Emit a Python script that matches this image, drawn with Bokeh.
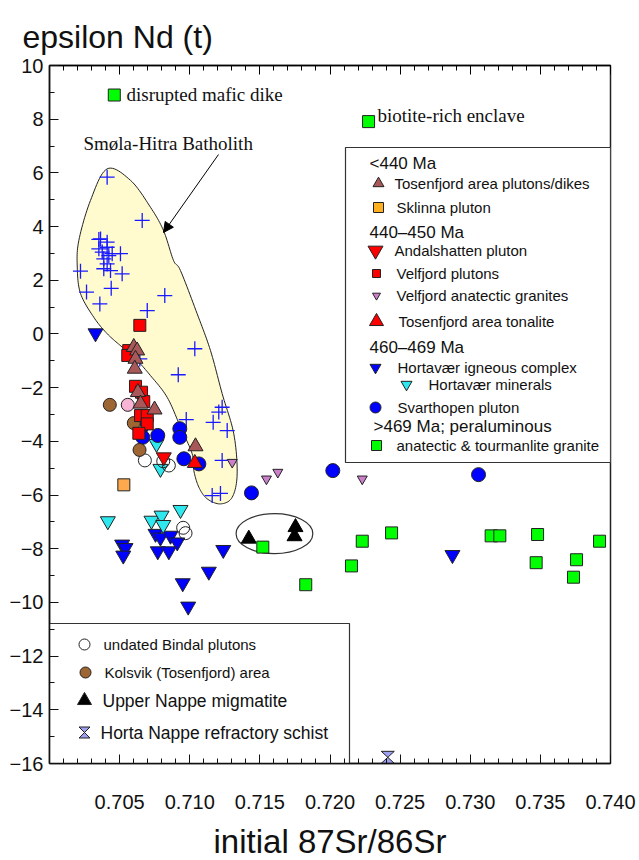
import numpy as np
from bokeh.plotting import figure
from bokeh.models import (FixedTicker, LinearAxis, Range1d, Label, Arrow, NormalHead,
                          PrintfTickFormatter, CustomJSTickFormatter)
from bokeh.embed import file_html
from bokeh.resources import INLINE

# ---------------- data: initial 87Sr/86Sr vs epsilon Nd(t) ----------------
smola_sr = [0.70411, 0.70661, 0.70364, 0.70411, 0.70376, 0.70411, 0.70423, 0.70387, 0.70447,
            0.70506, 0.70411, 0.70435, 0.70518, 0.70387, 0.70221, 0.70264, 0.70359, 0.70440,
            0.70697, 0.70822, 0.71036, 0.70918, 0.70644, 0.71231, 0.71207, 0.71167, 0.71267,
            0.70975, 0.71231, 0.71160, 0.71219, 0.70352, 0.70352]
smola_nd = [5.84, 4.23, 3.54, 3.42, 3.05, 3.23, 2.92, 2.80, 2.99,
            2.99, 2.61, 2.36, 2.24, 2.43, 2.34, 1.56, 1.12, 1.70,
            0.87, 1.43, -0.55, -1.52, -0.93, -2.73, -2.91, -3.29, -3.60,
            -3.19, -4.71, -6.02, -5.94, 3.52, 3.17]

horta_ig_sr = [0.70328, 0.70684, 0.70518, 0.70542, 0.70526, 0.70756, 0.70791, 0.70863, 0.70911,
               0.70772, 0.70851, 0.71239, 0.71136, 0.70950, 0.70989, 0.72873]
horta_ig_nd = [0.03, -3.41, -7.84, -7.97, -8.25, -7.44, -7.58, -7.51, -7.76,
               -8.09, -8.09, -8.04, -8.85, -9.28, -10.15, -8.23]

horta_min_sr = [0.70763, 0.70791, 0.70416, 0.70727, 0.70799, 0.70811, 0.70934]
horta_min_nd = [-4.09, -5.02, -6.97, -6.95, -6.76, -7.11, -6.55]

svart_sr = [0.70665, 0.70772, 0.70929, 0.70929, 0.70958, 0.71065, 0.71440, 0.72020, 0.73059]
svart_nd = [-3.85, -3.78, -3.53, -3.85, -4.65, -4.84, -5.92, -5.09, -5.24]

undated_sr = [0.70680, 0.70811, 0.70851, 0.70953, 0.70970]
undated_nd = [-4.71, -4.74, -4.90, -7.22, -7.42]

kolsvik_sr = [0.70430, 0.70601, 0.70642]
kolsvik_nd = [-2.64, -3.32, -4.32]

pink_sr = [0.70558]
pink_nd = [-2.64]

velfjord_sr = [0.70644, 0.70565, 0.70558, 0.70613, 0.70656, 0.70672, 0.70649, 0.70697, 0.70697, 0.70637]
velfjord_nd = [0.32, -0.62, -0.80, -1.95, -2.17, -2.52, -3.04, -3.04, -3.35, -3.70]

tosen_sr = [0.70601, 0.70625, 0.70613, 0.70608, 0.70630, 0.70649, 0.70749, 0.71041]
tosen_nd = [-0.49, -0.62, -0.93, -1.30, -2.17, -2.60, -2.82, -4.19]

andal_sr = [0.70815]
andal_nd = [-4.59]

tonalite_sr = [0.71036]
tonalite_nd = [-4.81]

vf_anatectic_sr = [0.71303, 0.71547, 0.71628, 0.72230]
vf_anatectic_nd = [-4.78, -5.40, -5.15, -5.40]

sklinna_sr = [0.70530]
sklinna_nd = [-5.62]

migmatite_sr = [0.71421, 0.71754, 0.71747]
migmatite_nd = [-7.63, -7.20, -7.54]

granite_sr = [0.72230, 0.72439, 0.72153, 0.71827, 0.73149, 0.73211, 0.73480, 0.73470,
              0.73758, 0.73736, 0.73922, 0.71521, 0.70462, 0.72275]
granite_nd = [-7.72, -7.41, -8.64, -9.34, -7.52, -7.52, -7.47, -8.52,
              -8.41, -9.06, -7.72, -7.94, 8.90, 7.91]

schist_sr = [0.72412]
schist_nd = [-15.77]

# outline of the Smøla-Hitra batholith field
bath_sr = [0.70411, 0.70578, 0.70720, 0.70813, 0.70884, 0.70934, 0.71053, 0.71148, 0.71231,
           0.71314, 0.71338, 0.71303, 0.71219, 0.71124, 0.71065, 0.71029, 0.71017, 0.70934,
           0.70839, 0.70720, 0.70613, 0.70518, 0.70411, 0.70316, 0.70221, 0.70198, 0.70209, 0.70292]
bath_nd = [6.15, 5.72, 4.72, 3.85, 2.74, 2.36, 0.75, -0.62, -2.22,
           -3.72, -5.21, -6.08, -6.33, -6.14, -5.71, -5.09, -4.46, -3.47,
           -2.36, -1.55, -0.92, -0.49, 0.01, 0.62, 1.51, 2.49, 3.48, 4.97]

# migmatite field (centre, width, height)
mig_field = dict(x=0.71604, y=-7.44, w=0.00547, h=1.49)

x_ticks = [0.705, 0.710, 0.715, 0.720, 0.725, 0.730, 0.735, 0.740]
y_ticks = list(range(-16, 11, 2))

# ---------------- layout ----------------
X0, X1 = 0.700, 0.740
Y0, Y1 = -16.0, 10.0
FL, FT, FW, FH = 49, 65, 561, 698   # frame left/top/width/height in pixels


def dx(sx):
    return X0 + (sx - FL) / FW * (X1 - X0)


def dy(sy):
    return Y1 - (sy - FT) / FH * (Y1 - Y0)


SANS = "Liberation Sans"
SERIF = "Liberation Serif"

p = figure(frame_width=FW, frame_height=FH,
           x_range=Range1d(X0, X1), y_range=Range1d(Y0, Y1),
           output_backend="svg", toolbar_location=None,
           min_border_left=FL, min_border_top=FT, min_border_right=29, min_border_bottom=97)
p.background_fill_color = "white"
p.border_fill_color = "white"
p.grid.visible = False
p.outline_line_color = "#222222"
p.outline_line_width = 1.5

# y-axis title sits above the frame, left aligned
p.title.text = "epsilon Nd (t)"
p.title.text_font = SANS
p.title.text_font_size = "32px"
p.title.text_font_style = "normal"
p.title.text_color = "#111111"
p.title.align = "left"
p.title.offset = -27
p.title.standoff = 22

minor_x = [round(0.700 + 0.001 * i, 3) for i in range(41)]
minor_y = list(range(-16, 11))

xa = p.xaxis[0]
xa.ticker = FixedTicker(ticks=x_ticks, minor_ticks=minor_x)
xa.formatter = PrintfTickFormatter(format="%.3f")
ya = p.yaxis[0]
ya.ticker = FixedTicker(ticks=y_ticks, minor_ticks=minor_y)

for ax in (xa, ya):
    ax.major_tick_in = 9
    ax.major_tick_out = 0
    ax.minor_tick_in = 5
    ax.minor_tick_out = 0
    ax.axis_line_width = 1.5
    ax.axis_line_color = "#111111"
    ax.major_tick_line_color = "#111111"
    ax.minor_tick_line_color = "#111111"
    ax.major_label_text_font = SANS
    ax.major_label_text_font_size = "20px"
    ax.major_label_text_color = "#111111"
xa.major_label_standoff = 31
ya.major_label_standoff = 6

xa.axis_label = "initial 87Sr/86Sr"
xa.axis_label_text_font = SANS
xa.axis_label_text_font_size = "33px"
xa.axis_label_text_font_style = "normal"
xa.axis_label_text_color = "#111111"
xa.axis_label_standoff = 11

top = LinearAxis(ticker=FixedTicker(ticks=x_ticks, minor_ticks=minor_x),
                 formatter=CustomJSTickFormatter(code="return ''"),
                 major_tick_in=9, major_tick_out=0, minor_tick_in=5, minor_tick_out=0,
                 major_label_standoff=0, axis_line_width=1.5)
p.add_layout(top, "above")

# ---------------- batholith field ----------------
def closed_spline(xs, ys, steps=12):
    sx = (np.asarray(xs) - X0) / (X1 - X0) * FW
    sy = (np.asarray(ys) - Y0) / (Y1 - Y0) * FH
    pts = np.column_stack([sx, sy])
    n = len(pts)
    out = []
    for i in range(n):
        p0, p1, p2, p3 = pts[i - 1], pts[i], pts[(i + 1) % n], pts[(i + 2) % n]
        for t in np.linspace(0, 1, steps, endpoint=False):
            t2, t3 = t * t, t * t * t
            out.append(0.5 * (2 * p1 + (-p0 + p2) * t + (2 * p0 - 5 * p1 + 4 * p2 - p3) * t2
                              + (-p0 + 3 * p1 - 3 * p2 + p3) * t3))
    out = np.array(out)
    return (X0 + out[:, 0] / FW * (X1 - X0)).tolist(), (Y0 + out[:, 1] / FH * (Y1 - Y0)).tolist()


bx, by = closed_spline(bath_sr, bath_nd)
p.patch(bx, by, fill_color="#fffbcf", line_color="#222222", line_width=1)

p.ellipse(x=[mig_field["x"]], y=[mig_field["y"]], width=mig_field["w"], height=mig_field["h"],
          fill_color=None, line_color="#333333", line_width=1.2)

# ---------------- data points ----------------
OUT = "#222222"
p.scatter(smola_sr, smola_nd, marker="cross", size=15, line_color="#1a1aff", line_width=1.3)
p.scatter(horta_ig_sr, horta_ig_nd, marker="inverted_triangle", size=15,
          fill_color="#0000ff", line_color=OUT, line_width=1)
p.scatter(horta_min_sr, horta_min_nd, marker="inverted_triangle", size=15,
          fill_color="#2ee8f0", line_color=OUT, line_width=1)
p.scatter(svart_sr, svart_nd, marker="circle", size=14,
          fill_color="#0000ff", line_color=OUT, line_width=1)
p.scatter(undated_sr, undated_nd, marker="circle", size=13,
          fill_color="white", fill_alpha=0.0, line_color=OUT, line_width=1)
p.scatter(kolsvik_sr, kolsvik_nd, marker="circle", size=13,
          fill_color="#9e6633", line_color=OUT, line_width=1)
p.scatter(pink_sr, pink_nd, marker="circle", size=13,
          fill_color="#f8b4d4", line_color=OUT, line_width=1)
p.scatter(velfjord_sr, velfjord_nd, marker="square", size=12,
          fill_color="#ff0000", line_color=OUT, line_width=1)
p.scatter(tosen_sr, tosen_nd, marker="triangle", size=15,
          fill_color="#a85858", line_color=OUT, line_width=1)
p.scatter(andal_sr, andal_nd, marker="inverted_triangle", size=15,
          fill_color="#ff0000", line_color=OUT, line_width=1)
p.scatter(tonalite_sr, tonalite_nd, marker="triangle", size=15,
          fill_color="#ff0000", line_color=OUT, line_width=1)
p.scatter(vf_anatectic_sr, vf_anatectic_nd, marker="inverted_triangle", size=10,
          fill_color="#cc80cc", line_color=OUT, line_width=1)
p.scatter(sklinna_sr, sklinna_nd, marker="square", size=12,
          fill_color="#ffa94d", line_color=OUT, line_width=1)
p.scatter(migmatite_sr, migmatite_nd, marker="triangle", size=15,
          fill_color="black", line_color="black", line_width=1)
p.scatter(granite_sr, granite_nd, marker="square", size=12,
          fill_color="#00ff00", line_color=OUT, line_width=1)


def hourglass(xs, ys, half_w=6.5, half_h=6.0):
    hx = half_w / FW * (X1 - X0)
    hy = half_h / FH * (Y1 - Y0)
    return ([[x - hx, x + hx, x - hx, x + hx] for x in xs],
            [[y + hy, y + hy, y - hy, y - hy] for y in ys])


hxs, hys = hourglass(schist_sr, schist_nd)
p.patches(hxs, hys, fill_color="#9fa0f0", line_color=OUT, line_width=1)

# ---------------- legend boxes ----------------
p.quad(left=[dx(345)], right=[dx(610)], top=[dy(147)], bottom=[dy(462)],
       fill_color="white", line_color="#333333", line_width=1.2)
p.quad(left=[dx(49)], right=[dx(349)], top=[dy(623)], bottom=[dy(763)],
       fill_color="white", line_color="#333333", line_width=1.2)


def label(text, sx, sy, size, font=SANS, align="left"):
    p.add_layout(Label(x=dx(sx), y=dy(sy), text=text, text_font=font, text_font_size=size,
                       text_baseline="middle", text_align=align, text_color="#111111"))


legend_headers = [("<440 Ma", 369, 163), ("440\u2013450 Ma", 369, 232),
                  ("460\u2013469 Ma", 369, 347), (">469 Ma; peraluminous", 373, 426)]
for t, sx, sy in legend_headers:
    label(t, sx, sy, "17px")

legend_items = [
    ("Tosenfjord area plutons/dikes", "triangle", "#a85858", 11, 378, 183, 394),
    ("Sklinna pluton", "square", "#ffb020", 10, 378, 207, 396),
    ("Andalshatten pluton", "inverted_triangle", "#ff0000", 15, 375, 250, 394),
    ("Velfjord plutons", "square", "#ff0000", 8, 376, 273, 396),
    ("Velfjord anatectic granites", "inverted_triangle", "#cc80cc", 8, 376, 295, 396),
    ("Tosenfjord area tonalite", "triangle", "#ff0000", 14, 376, 321, 398),
    ("Hortav\u00e6r igneous complex", "inverted_triangle", "#0000ff", 11, 375, 367, 397),
    ("Hortav\u00e6r minerals", "inverted_triangle", "#2ee8f0", 11, 406, 384, 428),
    ("Svarthopen pluton", "circle", "#0000ff", 11, 375, 407, 397),
    ("anatectic & tourmanlite granite", "square", "#00ff00", 10, 376, 445, 396),
]
for t, mk, col, sz, mx, my, tx in legend_items:
    p.scatter([dx(mx)], [dy(my)], marker=mk, size=sz, fill_color=col, line_color=OUT, line_width=1)
    label(t, tx, my, "15px")

lower_items = [
    ("undated Bindal plutons", "circle", "white", 11, 84, 644, 103, "15px"),
    ("Kolsvik (Tosenfjord) area", "circle", "#9e6633", 11, 85, 672, 104, "15px"),
    ("Upper Nappe migmatite", "triangle", "black", 14, 84, 700, 102, "17.5px"),
]
for t, mk, col, sz, mx, my, tx, fs in lower_items:
    p.scatter([dx(mx)], [dy(my)], marker=mk, size=sz, fill_color=col, line_color=OUT, line_width=1)
    label(t, tx, my, fs)
lxs, lys = hourglass([dx(84)], [dy(732)], half_w=5.5, half_h=5.5)
p.patches(lxs, lys, fill_color="#9fa0f0", line_color=OUT, line_width=1)
label("Horta Nappe refractory schist", 100, 732, "17.5px")

# ---------------- annotations ----------------
label("disrupted mafic dike", 126, 94, "19px", font=SERIF)
label("biotite-rich enclave", 377, 115, "19px", font=SERIF)
label("Sm\u00f8la-Hitra Batholith", 83, 143, "19px", font=SERIF)
p.add_layout(Arrow(end=NormalHead(size=10, fill_color="black", line_color="black"),
                   x_start=dx(218), y_start=dy(154), x_end=dx(163), y_end=dy(232),
                   line_color="black", line_width=1))

open("out.html", "w").write(file_html(p, INLINE))
